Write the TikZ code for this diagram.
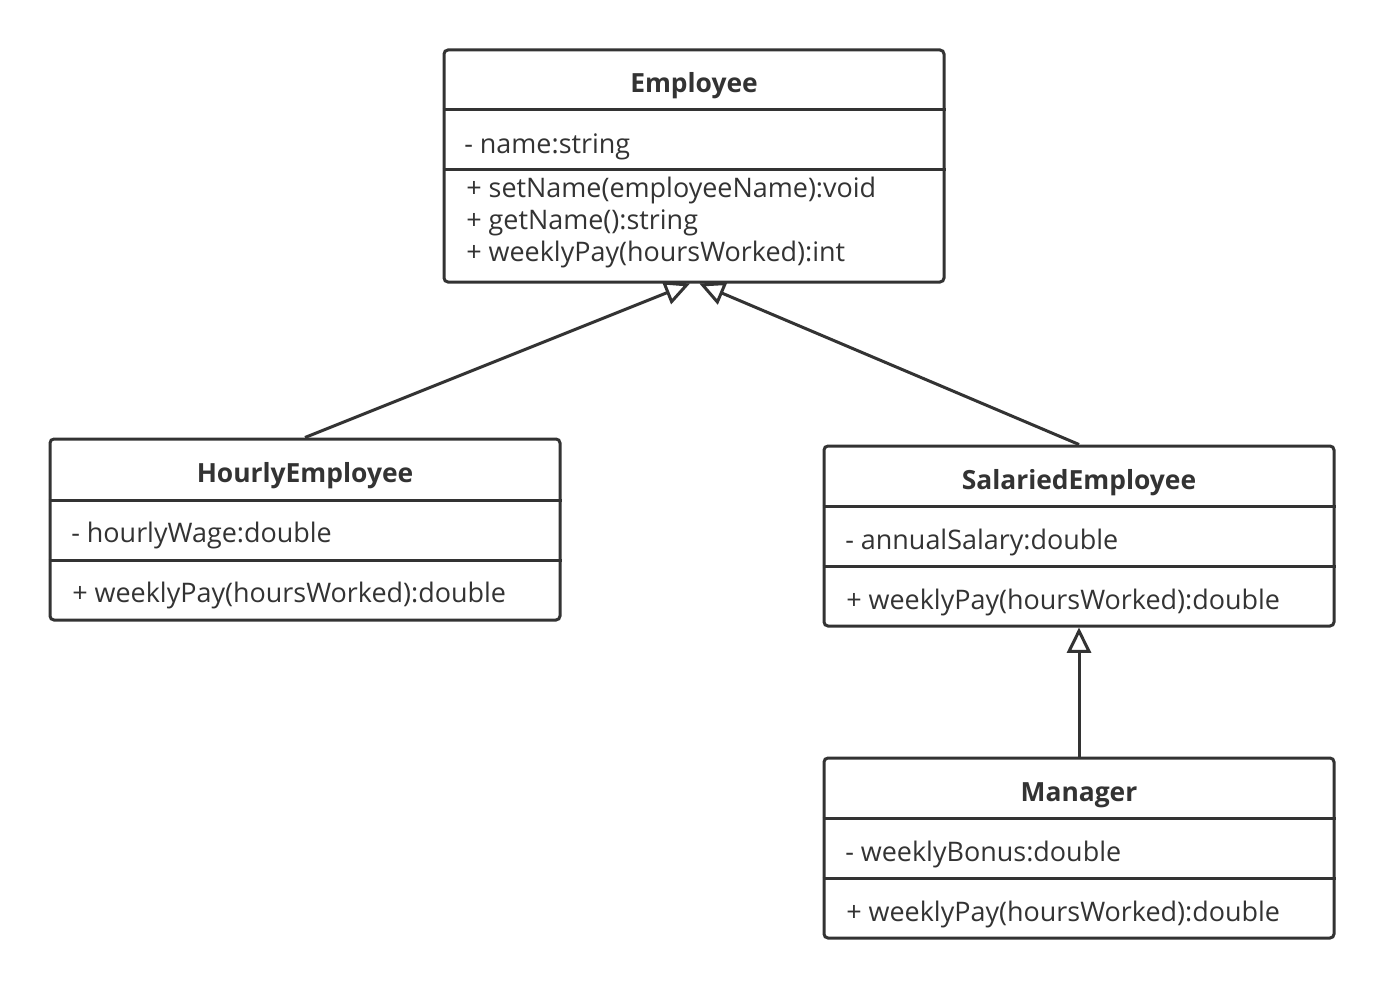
\documentclass[tikz,border=0pt]{standalone}
\usepackage{fontspec}
\setmainfont{Open Sans}
\usetikzlibrary{arrows.meta}
\pgfdeclarelayer{bottom}
\pgfdeclarelayer{background}
\pgfsetlayers{bottom,background,main}
\definecolor{ink}{HTML}{333333}
\tikzset{
  classbox/.style={draw=ink, fill=white, line width=2.25pt, rounded corners=3pt, inner sep=0pt},
  divider/.style={draw=ink, line width=2.25pt},
  ctitle/.style={anchor=base, inner sep=0pt, text=ink, font=\fontsize{19.8}{24}\selectfont\bfseries},
  cline/.style={anchor=base west, inner sep=0pt, text=ink, font=\fontsize{20.2}{24}\selectfont},
  gen/.style={draw=ink, line width=2.25pt, -{Triangle[open, length=19pt, width=18pt, line width=2.25pt]}},
}
\begin{document}
\begin{tikzpicture}[x=0.75pt, y=-0.75pt]
\begin{pgfonlayer}{bottom}
\fill[white] (0,0) rectangle (1384,988);
\end{pgfonlayer}
\useasboundingbox (0,0) rectangle (1384,988);

% Employee
\node[classbox, minimum width=375pt, minimum height=174pt] (emp) at (694,166) {};
\draw[divider] (emp.west |- 0,110) -- (emp.east |- 0,110);
\draw[divider] (emp.west |- 0,170) -- (emp.east |- 0,170);
\node[ctitle] (empT) at (694,92.5) {Employee};
\node[cline] (empA) at (464,153.5) {- name:string};
\node[cline] (empM1) at (466,197.5) {+ setName(employeeName):void};
\node[cline] (empM2) at (466,229.5) {+ getName():string};
\node[cline] (empM3) at (466,261.5) {+ weeklyPay(hoursWorked):int};

% HourlyEmployee
\node[classbox, minimum width=382.5pt, minimum height=135.75pt] (hour) at (305,529.5) {};
\draw[divider] (hour.west |- 0,500) -- (hour.east |- 0,500);
\draw[divider] (hour.west |- 0,560) -- (hour.east |- 0,560);
\node[ctitle] (hourT) at (305,482.5) {HourlyEmployee};
\node[cline] (hourA) at (71,542.5) {- hourlyWage:double};
\node[cline] (hourM) at (72,602.5) {+ weeklyPay(hoursWorked):double};

% SalariedEmployee
\node[classbox, minimum width=382.5pt, minimum height=135pt] (sal) at (1079,536) {};
\draw[divider] (sal.west |- 0,506) -- (sal.east |- 0,506);
\draw[divider] (sal.west |- 0,566) -- (sal.east |- 0,566);
\node[ctitle] (salT) at (1079,489.5) {SalariedEmployee};
\node[cline] (salA) at (845,549.5) {- annualSalary:double};
\node[cline] (salM) at (846,609.5) {+ weeklyPay(hoursWorked):double};

% Manager
\node[classbox, minimum width=382.5pt, minimum height=135pt] (man) at (1079,848) {};
\draw[divider] (man.west |- 0,818) -- (man.east |- 0,818);
\draw[divider] (man.west |- 0,878) -- (man.east |- 0,878);
\node[ctitle] (manT) at (1079,801.5) {Manager};
\node[cline] (manA) at (845,861.5) {- weeklyBonus:double};
\node[cline] (manM) at (846,921.5) {+ weeklyPay(hoursWorked):double};

% Generalisations
\begin{pgfonlayer}{background}
\draw[gen] (hour.north) -- ([xshift=-3pt]emp.south);
\draw[gen] (sal.north) -- ([xshift=4pt]emp.south);
\draw[gen] (man.north) -- (sal.south);
\end{pgfonlayer}
\end{tikzpicture}
\end{document}
